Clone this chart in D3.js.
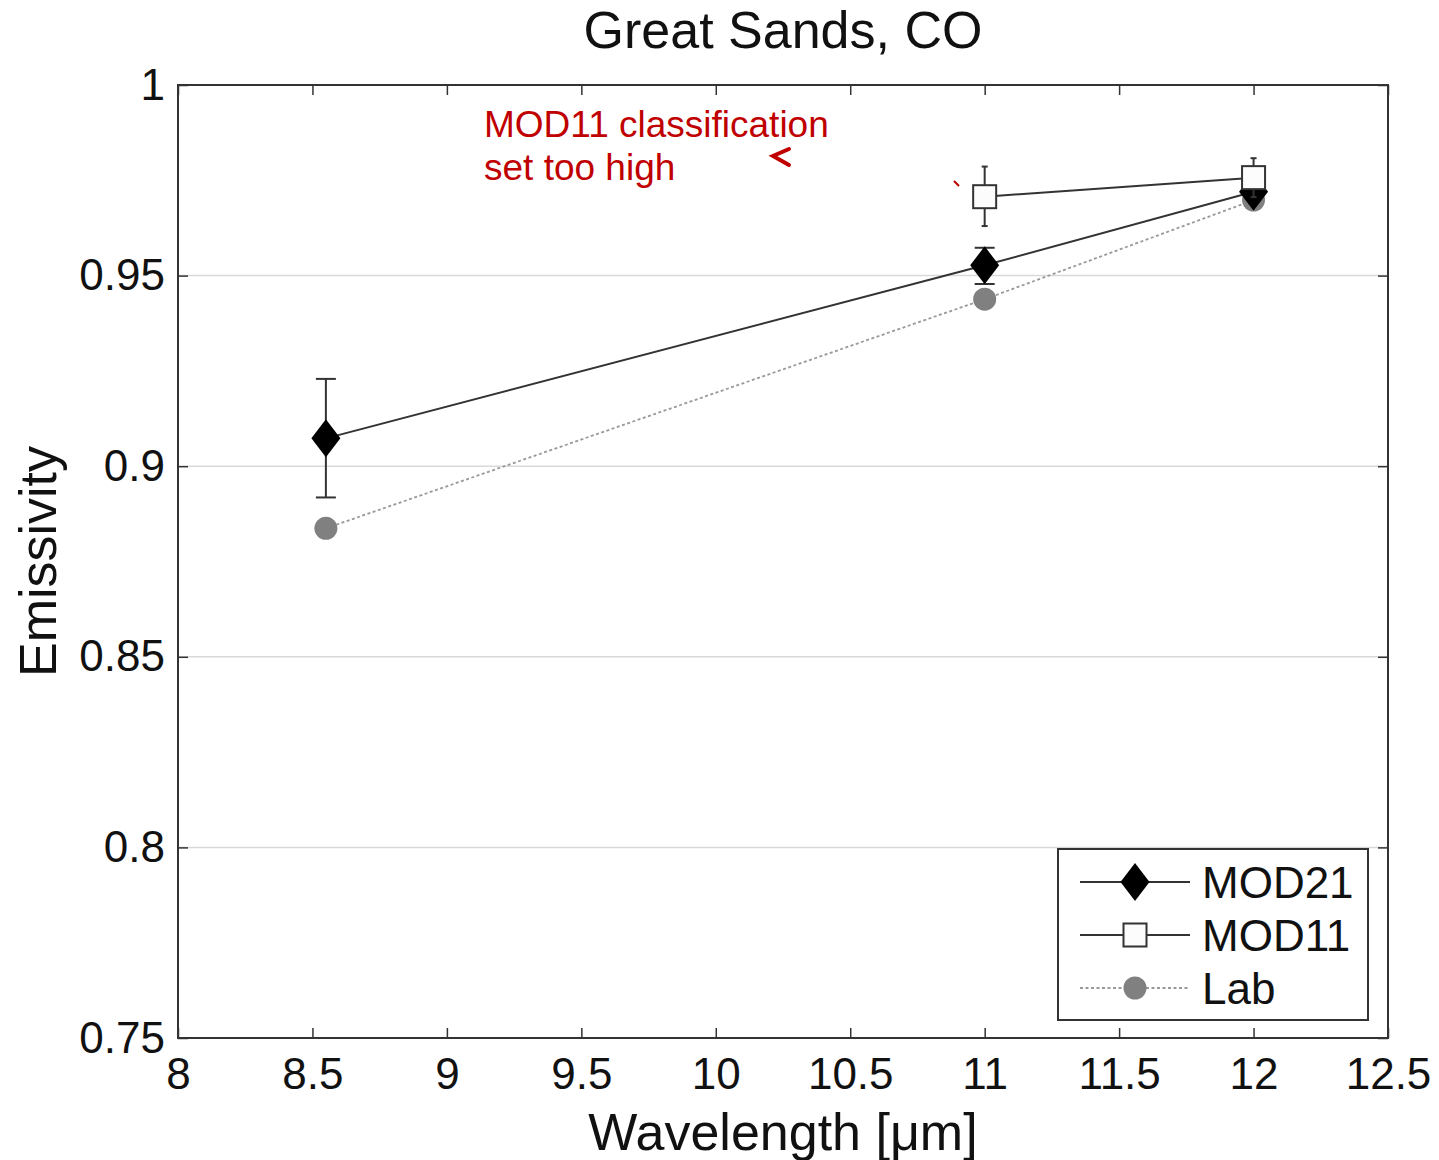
<!DOCTYPE html>
<html>
<head>
<meta charset="utf-8">
<script src="https://cdn.jsdelivr.net/npm/d3@7"></script>
<style>
  body { margin: 0; background: #fff; }
  text { font-family: "Liberation Sans", Arial, sans-serif; }
</style>
</head>
<body>
<svg id="chart" width="1439" height="1160"></svg>
<script>
// data
var wavelengths = [8.55, 11, 12];
var mod21 = [0.9073, 0.9527, 0.9720];
var mod21Lo = [0.8918, 0.9478, 0.9700];
var mod21Hi = [0.9229, 0.9573, 0.9740];
var mod11Wave = [11, 12];
var mod11 = [0.9707, 0.9757];
var mod11Lo = [0.9630, 0.9706];
var mod11Hi = [0.9786, 0.9808];
var lab = [0.8837, 0.9438, 0.9698];
var xTicks = [8, 8.5, 9, 9.5, 10, 10.5, 11, 11.5, 12, 12.5];
var yTicks = [0.75, 0.8, 0.85, 0.9, 0.95, 1];
var legendNames = ["MOD21", "MOD11", "Lab"];

var plotLeft = 178, plotRight = 1388, plotTop = 85, plotBottom = 1038;
var svg = d3.select("#chart");

var x = d3.scaleLinear().domain([8, 12.5]).range([plotLeft, plotRight]);
var y = d3.scaleLinear().domain([0.75, 1]).range([plotBottom, plotTop]);

// gridlines
svg.append("g")
    .selectAll("line")
    .data(yTicks.filter(function (d) { return d > 0.75 && d < 1; }))
    .enter().append("line")
    .attr("x1", plotLeft).attr("x2", plotRight)
    .attr("y1", function (d) { return y(d); })
    .attr("y2", function (d) { return y(d); })
    .style("stroke", "#d9d9d9")
    .style("stroke-width", 1.5);

// axes, ticks inward
var fmt = function (d) { return String(d); };
var gx = svg.append("g")
    .attr("transform", "translate(0," + plotBottom + ")")
    .call(d3.axisBottom(x).tickValues(xTicks).tickFormat(fmt).tickSizeInner(-10).tickSizeOuter(0).tickPadding(20));
var gxTop = svg.append("g")
    .attr("transform", "translate(0," + plotTop + ")")
    .call(d3.axisTop(x).tickValues(xTicks).tickFormat("").tickSizeInner(-10).tickSizeOuter(0));
var gy = svg.append("g")
    .attr("transform", "translate(" + plotLeft + ",0)")
    .call(d3.axisLeft(y).tickValues(yTicks).tickFormat(fmt).tickSizeInner(-10).tickSizeOuter(0).tickPadding(13));
var gyRight = svg.append("g")
    .attr("transform", "translate(" + plotRight + ",0)")
    .call(d3.axisRight(y).tickValues(yTicks).tickFormat("").tickSizeInner(-10).tickSizeOuter(0));

[gx, gxTop, gy, gyRight].forEach(function (g) {
    g.select(".domain").remove();
    g.selectAll("line").style("stroke", "#333").style("stroke-width", 1.5);
    g.selectAll("text")
        .style("font-family", "'Liberation Sans', Arial, sans-serif")
        .style("font-size", "44px")
        .style("fill", "#111");
});
gx.selectAll("text").attr("dy", "0.71em");

// frame
svg.append("rect")
    .attr("x", plotLeft).attr("y", plotTop)
    .attr("width", plotRight - plotLeft).attr("height", plotBottom - plotTop)
    .style("fill", "none").style("stroke", "#333").style("stroke-width", 2);

// title and labels
svg.append("text")
    .attr("x", (plotLeft + plotRight) / 2).attr("y", 48)
    .attr("text-anchor", "middle")
    .style("font-size", "52px").style("fill", "#111")
    .text("Great Sands, CO");

svg.append("text")
    .attr("x", (plotLeft + plotRight) / 2).attr("y", 1150)
    .attr("text-anchor", "middle")
    .style("font-size", "52px").style("fill", "#111")
    .text("Wavelength [\u03bcm]");

svg.append("text")
    .attr("transform", "translate(56," + ((plotTop + plotBottom) / 2) + ") rotate(-90)")
    .attr("text-anchor", "middle")
    .style("font-size", "52px").style("fill", "#111")
    .text("Emissivity");

// lines
var line = d3.line()
    .x(function (d) { return x(d[0]); })
    .y(function (d) { return y(d[1]); });

svg.append("path")
    .attr("d", line(d3.zip(wavelengths, lab)))
    .style("fill", "none").style("stroke", "#999").style("stroke-width", 1.8)
    .style("stroke-dasharray", "3,2.5");

svg.append("path")
    .attr("d", line(d3.zip(wavelengths, mod21)))
    .style("fill", "none").style("stroke", "#333").style("stroke-width", 2);

svg.append("path")
    .attr("d", line(d3.zip(mod11Wave, mod11)))
    .style("fill", "none").style("stroke", "#333").style("stroke-width", 2);

// error bars
function errorBars(xs, lo, hi, cap) {
    var g = svg.append("g").style("stroke", "#333").style("stroke-width", 2);
    xs.forEach(function (w, i) {
        g.append("line")
            .attr("x1", x(w)).attr("x2", x(w))
            .attr("y1", y(lo[i])).attr("y2", y(hi[i]));
        [lo[i], hi[i]].forEach(function (v) {
            g.append("line")
                .attr("x1", x(w) - cap).attr("x2", x(w) + cap)
                .attr("y1", y(v)).attr("y2", y(v));
        });
    });
}

// markers
var diamond = "M0,-19L14.5,0L0,19L-14.5,0Z";
function drawDiamond(g, cx, cy) {
    g.append("path").attr("d", diamond)
        .attr("transform", "translate(" + cx + "," + cy + ")")
        .style("fill", "#000");
}
function drawSquare(g, cx, cy) {
    g.append("rect")
        .attr("x", cx - 11.5).attr("y", cy - 11.5)
        .attr("width", 23).attr("height", 23)
        .style("fill", "#fcfcfc").style("stroke", "#333").style("stroke-width", 2);
}
function drawCircle(g, cx, cy) {
    g.append("circle")
        .attr("cx", cx).attr("cy", cy).attr("r", 11.5)
        .style("fill", "#808080");
}

var marks = svg.append("g");
wavelengths.forEach(function (w, i) { drawCircle(marks, x(w), y(lab[i])); });
errorBars(wavelengths.slice(0, 2), mod21Lo, mod21Hi, 10);
var marks1 = svg.append("g");
wavelengths.forEach(function (w, i) { drawDiamond(marks1, x(w), y(mod21[i])); });
errorBars(mod11Wave, mod11Lo, mod11Hi, 3);
var marks2 = svg.append("g");
mod11Wave.forEach(function (w, i) { drawSquare(marks2, x(w), y(mod11[i])); });

// annotation
var red = "#c00000";
var note = svg.append("text")
    .style("font-size", "37px").style("fill", red);
note.append("tspan").attr("x", 484).attr("y", 137).text("MOD11 classification");
note.append("tspan").attr("x", 484).attr("y", 180).text("set too high");

svg.append("path")
    .attr("d", "M789,149L773,156L789,165")
    .style("fill", "none").style("stroke", red).style("stroke-width", 4)
    .style("stroke-linecap", "round");
svg.append("path")
    .attr("d", "M954,181L959,186")
    .style("fill", "none").style("stroke", red).style("stroke-width", 2);

// legend
var lg = svg.append("g");
lg.append("rect")
    .attr("x", 1058).attr("y", 849).attr("width", 310).attr("height", 171)
    .style("fill", "#fff").style("stroke", "#333").style("stroke-width", 2);
var legendY = [882, 935, 988];
legendNames.forEach(function (name, i) {
    var ly = legendY[i];
    var ln = lg.append("line")
        .attr("x1", 1080).attr("x2", 1190).attr("y1", ly).attr("y2", ly);
    if (i === 2) {
        ln.style("stroke", "#999").style("stroke-width", 1.8).style("stroke-dasharray", "3,2.5");
        drawCircle(lg, 1135, ly);
    } else {
        ln.style("stroke", "#333").style("stroke-width", 2);
        if (i === 0) drawDiamond(lg, 1135, ly); else drawSquare(lg, 1135, ly);
    }
    lg.append("text")
        .attr("x", 1202).attr("y", ly + 16)
        .style("font-size", "44px").style("fill", "#111")
        .text(name);
});
</script>
</body>
</html>
